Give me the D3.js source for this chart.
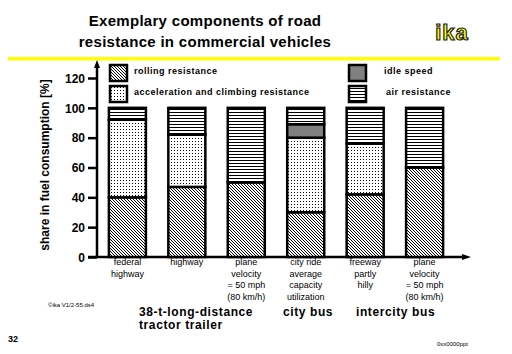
<!DOCTYPE html>
<html><head><meta charset="utf-8">
<script src="https://cdn.jsdelivr.net/npm/d3@7"></script>
<style>body{margin:0;background:#fff}svg{display:block}text{font-family:Arial,"Liberation Sans",sans-serif}</style>
</head><body>
<svg id="c" width="512" height="354"></svg>
<script>
const categories = [
  ["federal","highway"],
  ["highway"],
  ["plane","velocity","= 50 mph","(80 km/h)"],
  ["city ride","average","capacity","utilization"],
  ["freeway","partly","hilly"],
  ["plane","velocity","= 50 mph","(80 km/h)"]
];
const components = ["rolling","accel","idle","air"];
const rolling = [40, 47, 50, 30, 42, 60];
const accel   = [52, 35, 0, 50, 34, 0];
const idle    = [0, 0, 0, 9, 0, 0];
const air     = [8, 18, 50, 11, 24, 40];
const yTicks = [0, 20, 40, 60, 80, 100, 120];
const groups = [
  {lines:["38-t-long-distance","tractor trailer"], from:0},
  {lines:["city bus"], from:3},
  {lines:["intercity bus"], from:4}
];
const legendItems = [
  {key:"rolling", label:"rolling resistance", col:0, row:0},
  {key:"accel", label:"acceleration and climbing resistance", col:0, row:1},
  {key:"idle", label:"idle speed", col:1, row:0},
  {key:"air", label:"air resistance", col:1, row:1}
];

const svg = d3.select("#c");
const defs = svg.append("defs");
const pr = defs.append("pattern").attr("id","p-rolling").attr("patternUnits","userSpaceOnUse").attr("width",3).attr("height",3);
pr.append("rect").attr("width",3).attr("height",3).attr("fill","#fff");
pr.append("path").attr("d","M-1,-1 L4,4 M-1,2 L1,4 M2,-1 L4,1").attr("stroke","#000").attr("stroke-width",1);
const pa = defs.append("pattern").attr("id","p-accel").attr("patternUnits","userSpaceOnUse").attr("width",3).attr("height",3);
pa.append("rect").attr("width",3).attr("height",3).attr("fill","#fff");
pa.append("rect").attr("x",0).attr("y",0).attr("width",1).attr("height",1).attr("fill","#000");
const pai = defs.append("pattern").attr("id","p-air").attr("patternUnits","userSpaceOnUse").attr("width",4).attr("height",3);
pai.append("rect").attr("width",4).attr("height",3).attr("fill","#fff");
pai.append("rect").attr("x",0).attr("y",1).attr("width",4).attr("height",1).attr("fill","#000");
const fills = {rolling:"url(#p-rolling)", accel:"url(#p-accel)", idle:"#808080", air:"url(#p-air)"};

// title
svg.append("text").attr("x",205).attr("y",26).attr("text-anchor","middle")
  .attr("font-size",15).attr("font-weight","bold").attr("letter-spacing",0.3).text("Exemplary components of road");
svg.append("text").attr("x",205).attr("y",47).attr("text-anchor","middle")
  .attr("font-size",15).attr("font-weight","bold").attr("letter-spacing",0.3).text("resistance in commercial vehicles");
svg.append("text").attr("x",452).attr("y",40).attr("text-anchor","middle")
  .attr("font-size",22).attr("font-weight","bold").attr("fill","#ffff00")
  .attr("stroke","#222").attr("stroke-width",1.2).attr("letter-spacing",1).text("ika");
svg.append("rect").attr("x",8).attr("y",57).attr("width",492).attr("height",3.5).attr("fill","#ffff00");

// scales
const y = d3.scaleLinear().domain([0,120]).range([257,78]);
const x = d3.scaleBand().domain(d3.range(categories.length)).range([97,455]).paddingInner(0.377).paddingOuter(0.2);

// axes
const yAxis = d3.axisLeft(y).tickValues(yTicks).tickSize(9).tickSizeOuter(0).tickPadding(3);
const ga = svg.append("g").attr("transform","translate(97,0)").call(yAxis);
ga.select(".domain").remove();
ga.selectAll(".tick line").attr("stroke","#000").attr("stroke-width",2.5);
ga.selectAll(".tick text").attr("font-size",12).attr("font-weight","bold").attr("font-family","Arial, sans-serif").attr("dy","0.35em");
svg.append("line").attr("x1",97).attr("x2",97).attr("y1",258).attr("y2",66).attr("stroke","#000").attr("stroke-width",2.5);
svg.append("path").attr("d","M97,60 L94,68 L100,68 Z").attr("fill","#000");
svg.append("line").attr("x1",88).attr("x2",463).attr("y1",257).attr("y2",257).attr("stroke","#000").attr("stroke-width",2.5);
svg.append("path").attr("d","M471,257 L462,254 L462,260 Z").attr("fill","#000");

svg.append("text").attr("transform","translate(49,165) rotate(-90)").attr("text-anchor","middle")
  .attr("font-size",12).attr("font-weight","bold").text("share in fuel consumption [%]");

// stacked bars
const data = categories.map((c,i)=>({rolling:rolling[i],accel:accel[i],idle:idle[i],air:air[i]}));
const stack = d3.stack().keys(components)(data);
stack.forEach(layer=>{
  svg.append("g").selectAll("rect").data(layer).join("rect")
    .attr("x",(d,i)=>x(i)).attr("width",x.bandwidth())
    .attr("y",d=>y(d[1])).attr("height",d=>y(d[0])-y(d[1]))
    .attr("fill",fills[layer.key])
    .attr("stroke",d=>d[1]>d[0]?"#000":"none").attr("stroke-width",2.5);
});

// category labels
categories.forEach((lines,i)=>{
  const cx = x(i)+x.bandwidth()/2;
  const t = svg.append("text").attr("text-anchor","middle").attr("font-size",9).attr("x",cx);
  lines.forEach((l,j)=>t.append("tspan").attr("x",cx).attr("y",265+j*11.5).text(l));
});

// group labels
const groupX = [139, 283, 356];
groups.forEach((g,k)=>{
  const t = svg.append("text").attr("font-size",12).attr("font-weight","bold").attr("letter-spacing",0.6);
  g.lines.forEach((l,j)=>t.append("tspan").attr("x",groupX[k]).attr("y",316+j*13).text(l));
});

// legend
legendItems.forEach(it=>{
  const bx = it.col===0?110:349, by = it.row===0?65:86;
  svg.append("rect").attr("x",bx).attr("y",by).attr("width",17).attr("height",16)
    .attr("fill",fills[it.key]).attr("stroke","#000").attr("stroke-width",2.5);
  svg.append("text").attr("x",it.col===0?134:(it.row===0?384:386)).attr("y",by+9)
    .attr("font-size",9).attr("font-weight","bold").attr("letter-spacing",0.5).text(it.label);
});

// footer
svg.append("text").attr("x",8).attr("y",342).attr("font-size",9).attr("font-weight","bold").text("32");
svg.append("text").attr("x",48).attr("y",307).attr("font-size",6).text("©ika  V1/2-55.ds4");
svg.append("text").attr("x",437).attr("y",346).attr("font-size",6).text("0xx0000ppt");
</script>
</body></html>
